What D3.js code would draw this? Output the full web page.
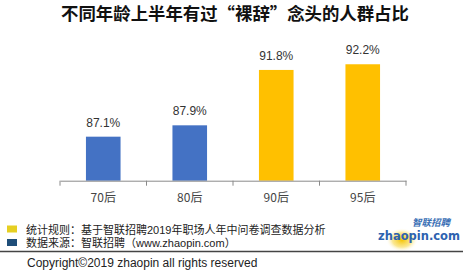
<!DOCTYPE html>
<html><head><meta charset="utf-8">
<script src="https://cdn.jsdelivr.net/npm/d3@7/dist/d3.min.js"></script>
<style>html,body{margin:0;padding:0;background:#fff;}svg{display:block;}</style>
</head><body>
<svg id="c" width="470" height="276"></svg>
<script>
const title = "不同年龄上半年有过“裸辞”念头的人群占比";
const categories = ["70后", "80后", "90后", "95后"];
const values = [87.1, 87.9, 91.8, 92.2];
const barColors = ["#4472c4", "#4472c4", "#ffc000", "#ffc000"];
const legendItems = [
  {label: "统计规则：基于智联招聘2019年职场人年中问卷调查数据分析", color: "#e6cf22"},
  {label: "数据来源：智联招聘（www.zhaopin.com）", color: "#1f4e79"}
];
const copyright = "Copyright©2019 zhaopin all rights reserved";

const svg = d3.select("#c");
const font = "'Noto Sans CJK SC', 'Microsoft YaHei', sans-serif";
const legendFont = "'Liberation Sans', 'Noto Sans CJK SC', sans-serif";

svg.append("text").attr("x", 235).attr("y", 20).attr("text-anchor", "middle")
  .attr("font-family", font).attr("font-weight", "bold").attr("font-size", 17.4)
  .attr("fill", "#111").text(title);

const x = d3.scaleBand().domain(categories).range([60, 406]).paddingInner(0.6).paddingOuter(0.3);
const y = d3.scaleLinear().domain([84, 94]).range([180.7, 38.7]);

// bars
svg.selectAll("rect.bar").data(values).join("rect").attr("class", "bar")
  .attr("x", (d, i) => x(categories[i]))
  .attr("width", x.bandwidth())
  .attr("y", d => y(d))
  .attr("height", d => y.range()[0] - y(d))
  .attr("fill", (d, i) => barColors[i]);

// value labels
svg.selectAll("text.val").data(values).join("text").attr("class", "val")
  .attr("x", (d, i) => x(categories[i]) + x.bandwidth() / 2)
  .attr("y", d => y(d) - 10)
  .attr("text-anchor", "middle").attr("font-family", "'Liberation Sans', Arial, sans-serif")
  .attr("font-size", 12).attr("fill", "#333")
  .text(d => d.toFixed(1) + "%");

// axis
const axisG = svg.append("g").attr("transform", `translate(0,${y.range()[0]})`)
  .call(d3.axisBottom(x).tickSize(0).tickPadding(13));
axisG.select(".domain").attr("stroke", "#8a8a8a");
axisG.selectAll(".tick text").attr("font-family", font).attr("font-size", 12).attr("fill", "#444");
const bounds = [60].concat(categories.map((c, i) => 60 + (i + 1) * (346 / categories.length)));
svg.selectAll("line.tk").data(bounds).join("line").attr("class", "tk")
  .attr("x1", d => d).attr("x2", d => d)
  .attr("y1", y.range()[0]).attr("y2", y.range()[0] + 5)
  .attr("stroke", "#8a8a8a");

// legend
const lg = svg.selectAll("g.lg").data(legendItems).join("g").attr("class", "lg")
  .attr("transform", (d, i) => `translate(7,${224.5 + i * 13.5})`);
lg.append("rect").attr("y", 1).attr("width", 10).attr("height", 7).attr("fill", d => d.color);
lg.append("text").attr("x", 19).attr("y", 9).attr("font-family", legendFont).attr("font-size", 11)
  .attr("fill", "#222").text(d => d.label);

// logo
const defs = svg.append("defs");
const rg = defs.append("radialGradient").attr("id", "glow");
rg.append("stop").attr("offset", "0%").attr("stop-color", "#f5c400").attr("stop-opacity", 1);
rg.append("stop").attr("offset", "60%").attr("stop-color", "#f8d84a").attr("stop-opacity", 0.6);
rg.append("stop").attr("offset", "100%").attr("stop-color", "#fff").attr("stop-opacity", 0);
svg.append("ellipse").attr("cx", 402).attr("cy", 240).attr("rx", 16).attr("ry", 12).attr("fill", "url(#glow)");
svg.append("text").attr("x", 431).attr("y", 226).attr("text-anchor", "middle")
  .attr("font-family", font).attr("font-weight", "bold").attr("font-style", "italic")
  .attr("font-size", 9.5).attr("fill", "#3a6fb5").text("智联招聘");
svg.append("text").attr("x", 419).attr("y", 240).attr("text-anchor", "middle")
  .attr("font-family", "'DejaVu Sans', sans-serif").attr("font-weight", "bold")
  .attr("font-size", 11.5).attr("fill", "#2d62b0").text("zhaopin.com");

// rule
svg.append("line").attr("x1", 0).attr("x2", 463).attr("y1", 251.5).attr("y2", 251.5)
  .attr("stroke", "#444").attr("stroke-width", 1.5);

svg.append("text").attr("x", 27).attr("y", 267).attr("font-family", "'Liberation Sans', Arial, sans-serif")
  .attr("font-size", 12).attr("fill", "#222").text(copyright);
</script>
</body></html>
